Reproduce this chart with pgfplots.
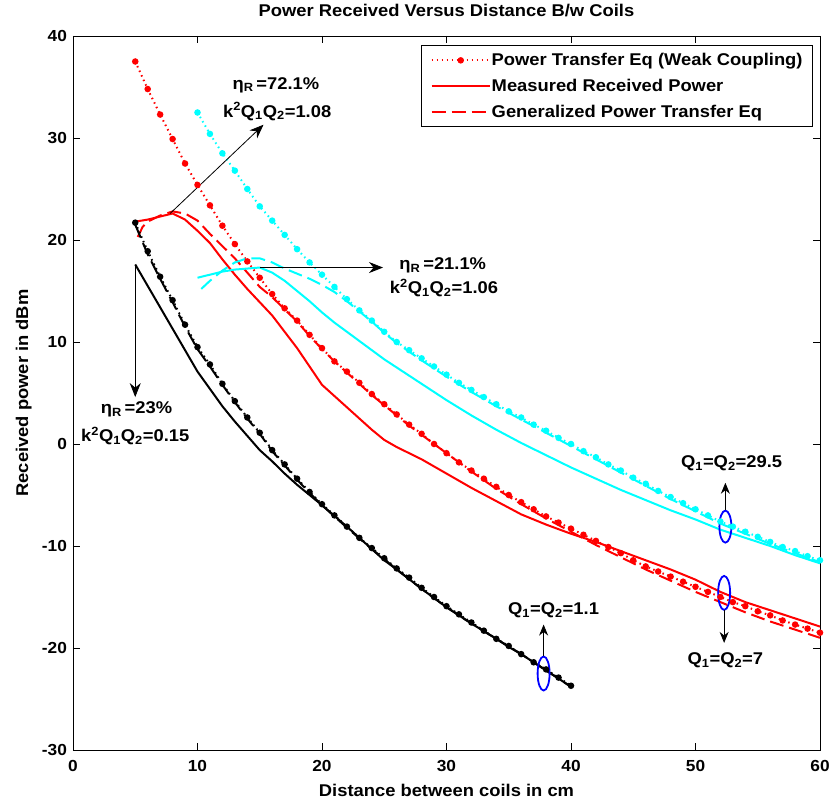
\documentclass[border=0pt]{standalone}
\usepackage{fontspec}
\setmainfont{Liberation Sans}[FakeStretch=1.08]
\usepackage{pgfplots}
\pgfplotsset{compat=1.18}
\usetikzlibrary{arrows.meta}
\definecolor{cyanc}{RGB}{0,255,255}
\newcommand{\bigf}{\fontsize{17}{20}\selectfont\bfseries}
\newcommand{\tickf}{\fontsize{16}{18}\selectfont\bfseries}
\begin{document}
\begin{tikzpicture}
\begin{axis}[
  scale only axis, width=747pt, height=714pt,
  xmin=0, xmax=60, ymin=-30, ymax=40,
  xtick={0,10,...,60}, ytick={-30,-20,...,40},
  tick align=inside, major tick length=7pt,
  axis line style={line width=0.9pt},
  every tick/.style={black, line width=0.9pt},
  /pgf/number format/assume math mode=true,
  tick label style={font=\tickf},
  xticklabel style={yshift=-7pt},
  yticklabel style={xshift=-2.5pt},
  title={Power Received Versus Distance B/w Coils},
  title style={font=\bigf, at={(axis description cs:0.5,1)}, anchor=base, yshift=13pt},
  xlabel={Distance between coils in cm},
  xlabel style={font=\bigf, at={(axis description cs:0.5,0)}, anchor=base, yshift=-47pt},
  ylabel={Received power in dBm},
  ylabel style={font=\bigf, at={(axis description cs:-0.0602,0.5)}, anchor=base, rotate=0},
  legend style={at={(rel axis cs:1,1)}, anchor=north east, xshift=-7pt, yshift=-9pt,
    draw=black, line width=0.9pt, font=\bigf, inner xsep=9pt, inner ysep=7pt, row sep=10pt,
    nodes={inner sep=1pt}},
  legend cell align=left,
  legend image code/.code={\draw[line width=2pt, mark repeat=2,mark phase=2,#1] plot coordinates {(0pt,0pt) (29pt,0pt) (58pt,0pt)};},
  every axis plot/.append style={line width=2pt},
]
% ---------------- red: weak coupling (dotted with markers)
\addplot[red, draw=red, dash pattern=on 1.5pt off 3.5pt, mark=*, mark size=2.2pt, mark options={solid, draw=red, fill=red}] coordinates {
(5,37.5)(6,34.8)(7,32.3)(8,29.9)(9,27.5)(10,25.4)(11,23.4)(12,21.4)(13,19.6)(14,17.9)
(15,16.3)(16,14.7)(17,13.3)(18,12.1)(19,10.7)(20,9.4)(21,8.1)(22,7.1)(23,6.0)(24,4.9)
(25,3.9)(26,2.9)(27,1.9)(28,1.0)(29,0.0)(30,-0.9)(31,-1.8)(32,-2.6)(33,-3.4)(34,-4.2)(35,-5.0)(36,-5.7)
(37,-6.4)(38,-7.1)(39,-7.7)(40,-8.3)(41,-8.9)(42,-9.5)(43,-10.1)(44,-10.7)(45,-11.4)(46,-12.0)(47,-12.5)(48,-13.0)
(49,-13.5)(50,-14.0)(51,-14.5)(52,-15.0)(53,-15.5)(54,-15.9)(55,-16.4)(56,-16.8)(57,-17.3)(58,-17.7)(59,-18.1)(60,-18.5)};
\addlegendentry{Power Transfer Eq (Weak Coupling)}
% ---------------- red: measured (solid)
\addplot[red, draw=red] coordinates {
(5,21.8)(6,22.0)(7,22.3)(8,22.6)(9,22.0)(10,20.9)(11,19.7)(12,18.1)(13,16.6)(14,15.2)
(15,13.9)(16,12.6)(17,11.0)(18,9.4)(19,7.6)(20,5.8)(21,4.7)(22,3.6)(23,2.5)(24,1.4)
(25,0.4)(26,-0.3)(27,-0.9)(28,-1.5)(30,-2.9)(32,-4.3)(34,-5.6)(36,-6.9)(38,-7.9)(40,-8.8)
(42,-9.6)(44,-10.5)(46,-11.4)(48,-12.3)(50,-13.3)(52,-14.5)(54,-15.5)(56,-16.3)(58,-17.1)(60,-17.9)};
\addlegendentry{Measured Received Power}
% ---------------- red: generalized (dashed)
\addplot[red, draw=red, dash pattern=on 14pt off 6pt] coordinates {
(5.2,20.3)(5.6,21.3)(6,21.8)(7,22.4)(8,22.8)(9,22.6)(10,21.9)(11,20.6)(12,19.4)(13,18.2)(14,16.8)
(15,15.4)(16,14.4)(17,13.2)(18,12.0)(19,10.6)(20,9.3)(21,8.1)(22,7.0)(23,5.9)(24,4.8)
(25,3.8)(26,2.8)(27,1.8)(28,0.9)(30,-0.9)(32,-2.7)(34,-4.4)(36,-5.9)(38,-7.3)(40,-8.6)
(42,-9.9)(44,-11.1)(46,-12.3)(48,-13.4)(50,-14.5)(52,-15.5)(54,-16.5)(56,-17.4)(58,-18.2)(60,-19.0)};
\addlegendentry{Generalized Power Transfer Eq}
% ---------------- black: weak coupling (dotted with markers)
\addplot[black, dash pattern=on 1.5pt off 3.5pt, mark=*, mark size=2.2pt, mark options={solid}, forget plot] coordinates {
(5,21.7)(6,18.9)(7,16.4)(8,14.1)(9,11.7)(10,9.5)(11,7.8)(12,5.9)(13,4.2)(14,2.6)
(15,1.1)(16,-0.6)(17,-2.0)(18,-3.4)(19,-4.7)(20,-5.9)(21,-7.0)(22,-8.1)(23,-9.2)(24,-10.2)(25,-11.2)
(26,-12.2)(27,-13.1)(28,-14.1)(29,-15.0)(30,-15.9)(31,-16.7)(32,-17.5)(33,-18.3)(34,-19.1)(35,-19.8)
(36,-20.6)(37,-21.4)(38,-22.1)(39,-22.9)(40,-23.7)};
% ---------------- black: measured (solid)
\addplot[black, forget plot] coordinates {
(5,17.6)(6,15.5)(7,13.4)(8,11.3)(9,9.2)(10,7.1)(11,5.4)(12,3.7)(13,2.2)(14,0.8)
(15,-0.6)(16,-1.7)(17,-2.9)(18,-4.0)(19,-5.0)(20,-6.0)(22,-8.1)(24,-10.3)(25,-11.4)(26,-12.3)
(28,-14.2)(30,-16.0)(32,-17.6)(34,-19.1)(35,-19.9)(36,-20.6)(38,-22.2)(40,-23.8)};
% ---------------- black: generalized (dashed)
\addplot[black, dash pattern=on 14pt off 6pt, forget plot] coordinates {
(5,21.5)(6,18.6)(7,16.2)(8,13.9)(9,11.5)(10,9.3)(11,7.6)(12,5.8)(13,4.1)(14,2.5)
(15,1.0)(16,-0.7)(17,-2.1)(18,-3.5)(19,-4.8)(20,-6.0)(22,-8.2)(24,-10.3)(26,-12.3)(28,-14.2)
(30,-16.0)(32,-17.6)(34,-19.1)(36,-20.6)(38,-22.2)(40,-23.8)};
% ---------------- cyan: weak coupling (dotted with markers)
\addplot[cyanc, dash pattern=on 1.5pt off 3.5pt, mark=*, mark size=2.2pt, mark options={solid}, forget plot] coordinates {
(10,32.5)(11,30.4)(12,28.5)(13,26.8)(14,25.0)(15,23.3)(16,21.9)(17,20.5)(18,19.1)(19,17.8)
(20,16.6)(21,15.4)(22,14.2)(23,13.1)(24,12.1)(25,11.0)(26,10.0)(27,9.2)(28,8.4)(29,7.6)(30,6.8)
(31,6.0)(32,5.3)(33,4.6)(34,3.9)(35,3.2)(36,2.6)(37,1.9)(38,1.3)(39,0.6)(40,0.0)
(41,-0.7)(42,-1.3)(43,-2.0)(44,-2.6)(45,-3.3)(46,-3.9)(47,-4.6)(48,-5.2)(49,-5.8)(50,-6.4)
(51,-7.0)(52,-7.6)(53,-8.1)(54,-8.6)(55,-9.1)(56,-9.6)(57,-10.1)(58,-10.5)(59,-11.0)(60,-11.4)};
% ---------------- cyan: measured (solid)
\addplot[cyanc, forget plot] coordinates {
(10,16.3)(11,16.6)(12,16.9)(13,17.1)(14,17.2)(15,17.3)(16,16.8)(17,16.0)(18,15.0)(19,14.0)
(20,12.9)(21,11.9)(22,11.0)(23,10.1)(24,9.2)(25,8.3)(26,7.5)(28,5.9)(30,4.3)(32,2.8)
(34,1.4)(36,0.1)(38,-1.1)(40,-2.3)(42,-3.4)(44,-4.5)(46,-5.5)(48,-6.5)(50,-7.4)(52,-8.4)
(54,-9.2)(56,-10.0)(58,-10.9)(60,-11.7)};
% ---------------- cyan: generalized (dashed)
\addplot[cyanc, dash pattern=on 14pt off 6pt, forget plot] coordinates {
(10.3,15.2)(11,16.0)(12,17.0)(13,17.8)(14,18.2)(15,18.2)(16,17.8)(17,17.2)(18,16.7)(19,16.2)
(20,15.6)(21,14.9)(22,14.0)(23,13.0)(24,12.0)(25,10.9)(26,9.9)(28,8.2)(30,6.6)(32,5.1)
(34,3.7)(36,2.4)(38,1.1)(40,-0.2)(42,-1.5)(44,-2.8)(46,-4.1)(48,-5.4)(50,-6.6)(52,-7.8)
(54,-8.8)(56,-9.8)(58,-10.7)(60,-11.6)};
% ---------------- annotations
\draw[line width=0.8pt, -{Stealth[length=14pt,width=11pt]}] (axis cs:7.8,22.6) -- (axis cs:15.3,31.3);
\node[font=\bigf] at (axis cs:16.3,35.2) {η\textsubscript{R}\,=72.1\%};
\node[font=\bigf] at (axis cs:16.4,32.6) {k\textsuperscript{2}Q\textsubscript{1}Q\textsubscript{2}=1.08};
\draw[line width=0.8pt, -{Stealth[length=14pt,width=11pt]}] (axis cs:15,17.3) -- (axis cs:24.9,17.3);
\node[font=\bigf] at (axis cs:29.7,17.5) {η\textsubscript{R}\,=21.1\%};
\node[font=\bigf] at (axis cs:29.8,15.3) {k\textsuperscript{2}Q\textsubscript{1}Q\textsubscript{2}=1.06};
\draw[line width=0.8pt, -{Stealth[length=14pt,width=11pt]}] (axis cs:5,17.5) -- (axis cs:5,4.6);
\node[font=\bigf] at (axis cs:5.1,3.4) {η\textsubscript{R}\,=23\%};
\node[font=\bigf] at (axis cs:5.0,0.8) {k\textsuperscript{2}Q\textsubscript{1}Q\textsubscript{2}=0.15};
% ellipses
\draw[blue, line width=1.8pt] (axis cs:37.8,-22.5) ellipse [x radius=6pt, y radius=17pt];
\draw[blue, line width=1.8pt] (axis cs:52.4,-8.1) ellipse [x radius=6pt, y radius=16pt];
\draw[blue, line width=1.8pt] (axis cs:52.3,-14.6) ellipse [x radius=6pt, y radius=17pt];
\draw[line width=0.8pt, -{Stealth[length=11pt,width=9pt]}] (axis cs:37.8,-20.8) -- (axis cs:37.8,-17.7);
\node[font=\bigf] at (axis cs:38.6,-16.3) {Q\textsubscript{1}=Q\textsubscript{2}=1.1};
\draw[line width=0.8pt, -{Stealth[length=11pt,width=9pt]}] (axis cs:52.4,-6.5) -- (axis cs:52.4,-3.8);
\node[font=\bigf] at (axis cs:52.9,-1.9) {Q\textsubscript{1}=Q\textsubscript{2}=29.5};
\draw[line width=0.8pt, -{Stealth[length=11pt,width=9pt]}] (axis cs:52.3,-16.3) -- (axis cs:52.3,-19.5);
\node[font=\bigf] at (axis cs:52.4,-21.2) {Q\textsubscript{1}=Q\textsubscript{2}=7};
\end{axis}
\pgfresetboundingbox
\path[use as bounding box] (-73pt,-52pt) rectangle (759pt,750pt);
\end{tikzpicture}
\end{document}
